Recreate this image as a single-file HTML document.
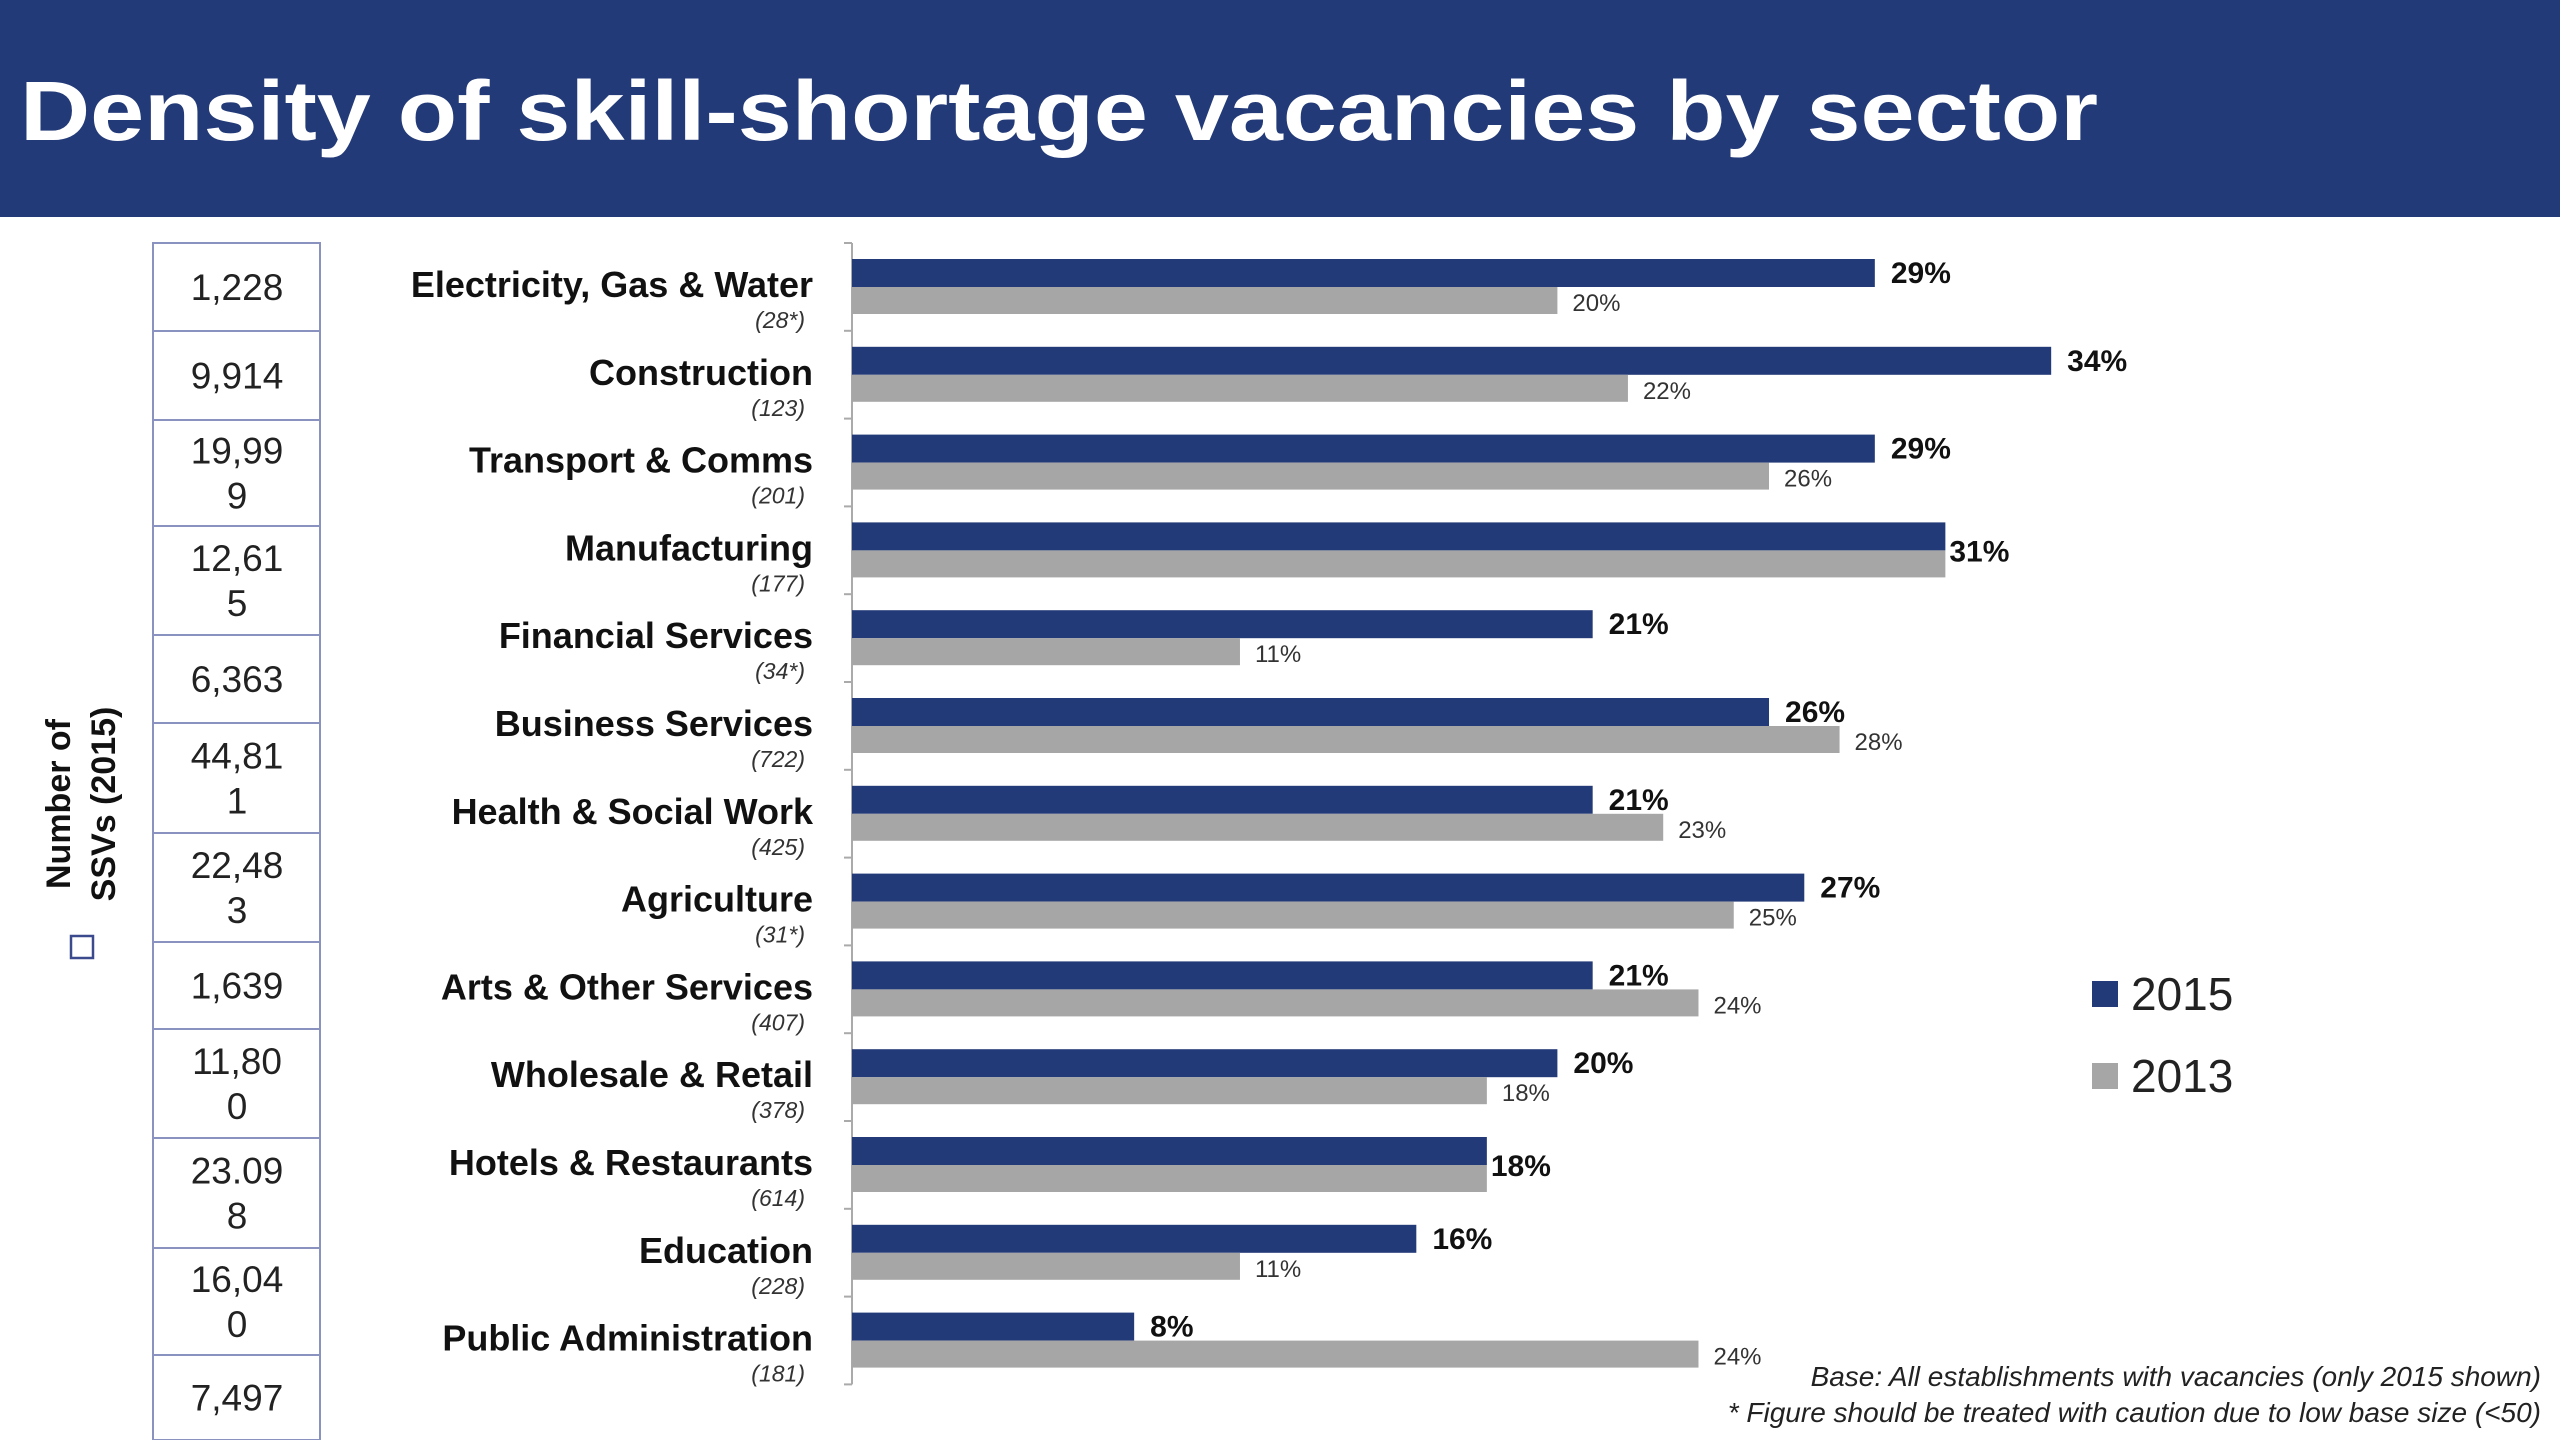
<!DOCTYPE html>
<html><head><meta charset="utf-8"><style>
html,body{margin:0;padding:0;background:#fff;}
svg{display:block;font-family:"Liberation Sans","DejaVu Sans",sans-serif;}
</style></head><body>
<svg id="chart" width="2560" height="1440" viewBox="0 0 2560 1440">
<rect x="0" y="0" width="2560" height="217" fill="#233a78"/>
<text x="20" y="140" font-size="84" font-weight="bold" fill="#fff" textLength="2078" lengthAdjust="spacingAndGlyphs">Density of skill-shortage vacancies by sector</text>
<g>
<text transform="translate(70,804) rotate(-90)" text-anchor="middle" font-size="34" font-weight="bold" fill="#111">Number of</text>
<text transform="translate(115,804) rotate(-90)" text-anchor="middle" font-size="34" font-weight="bold" fill="#111">SSVs (2015)</text>
</g>
<rect x="71" y="936" width="22" height="22" fill="none" stroke="#3a4a8c" stroke-width="2.5"/>
<g id="table"></g>
<g id="bars"></g>
<g>
<rect x="2092" y="981" width="26" height="26" fill="#233a78"/>
<text x="2131" y="1010" font-size="46" fill="#222">2015</text>
<rect x="2092" y="1063" width="26" height="26" fill="#a6a6a6"/>
<text x="2131" y="1092" font-size="46" fill="#222">2013</text>
</g>
<text x="2541" y="1386" text-anchor="end" font-size="28" font-style="italic" fill="#222">Base: All establishments with vacancies (only 2015 shown)</text>
<text x="2541" y="1422" text-anchor="end" font-size="28" font-style="italic" fill="#222">* Figure should be treated with caution due to low base size (&lt;50)</text>
</svg>
<script>
const categories = ["Electricity, Gas & Water","Construction","Transport & Comms","Manufacturing","Financial Services","Business Services","Health & Social Work","Agriculture","Arts & Other Services","Wholesale & Retail","Hotels & Restaurants","Education","Public Administration"];
const bases = ["(28*)","(123)","(201)","(177)","(34*)","(722)","(425)","(31*)","(407)","(378)","(614)","(228)","(181)"];
const values2015 = [29,34,29,31,21,26,21,27,21,20,18,16,8];
const values2013 = [20,22,26,31,11,28,23,25,24,18,18,11,24];
const ssvLines = [["1,228"],["9,914"],["19,99","9"],["12,61","5"],["6,363"],["44,81","1"],["22,48","3"],["1,639"],["11,80","0"],["23.09","8"],["16,04","0"],["7,497"]];
const ssvRowEdges = [243,331,420,526,635,723,833,942,1029,1138,1248,1355,1440];

const NS = "http://www.w3.org/2000/svg";
const X0 = 852, PX = 35.27, TOP = 243, BAND = 87.8;
const xs = v => X0 + v * PX;
const ys = i => TOP + i * BAND;
function mk(tag, attrs, parent, txt) {
  const e = document.createElementNS(NS, tag);
  for (const k in attrs) e.setAttribute(k, attrs[k]);
  if (txt !== undefined) e.textContent = txt;
  parent.appendChild(e);
  return e;
}
const bars = document.getElementById('bars');
const axis = mk('line', {x1: X0, y1: TOP, x2: X0, y2: ys(categories.length), stroke: '#aaa', 'stroke-width': 2}, bars);


for (let i = 0; i <= categories.length; i++) {
  const t = mk('line', {x1: X0 - 8, y1: ys(i), x2: X0, y2: ys(i), stroke: '#aaa', 'stroke-width': 2}, bars);
  
  
}
categories.forEach((c, i) => {
  const y = ys(i);
  const lab = mk('text', {x: 813, y: y + 54, 'text-anchor': 'end', 'font-size': 36, 'font-weight': 'bold', fill: '#111'}, bars, c);
  
  
  const b = mk('text', {x: 805, y: y + 85, 'text-anchor': 'end', 'font-size': 23, 'font-style': 'italic', fill: '#333'}, bars, bases[i]);
  
  
  const v1 = values2015[i], v0 = values2013[i];
  const r1 = mk('rect', {x: X0, y: y + 16, width: xs(v1) - X0, height: 28, fill: '#233a78'}, bars);
  
  
  const r0 = mk('rect', {x: X0, y: y + 44, width: xs(v0) - X0, height: 27, fill: '#a6a6a6'}, bars);
  
  
  if (v1 === v0) {
    const l = mk('text', {x: xs(v1) + 4, y: y + 55, 'font-size': 30, 'font-weight': 'bold', fill: '#111'}, bars, v1 + '%');
    
    
  } else {
    const l1 = mk('text', {x: xs(v1) + 16, y: y + 40, 'font-size': 30, 'font-weight': 'bold', fill: '#111'}, bars, v1 + '%');
    
    
    const l0 = mk('text', {x: xs(v0) + 15, y: y + 68, 'font-size': 24, fill: '#333'}, bars, v0 + '%');
    
    
  }
});
const table = document.getElementById('table');
ssvLines.forEach((lines, i) => {
  const y0 = ssvRowEdges[i], y1 = ssvRowEdges[i + 1];
  const r = mk('rect', {x: 153, y: y0, width: 167, height: y1 - y0, fill: '#fff', stroke: '#8a93c0', 'stroke-width': 2}, table);
  
  
  const mid = (y0 + y1) / 2;
  const lh = 45;
  lines.forEach((s, j) => {
    const ty = mid + 13 + (j - (lines.length - 1) / 2) * lh;
    const t = mk('text', {x: 237, y: ty, 'text-anchor': 'middle', 'font-size': 37, fill: '#222'}, table, s);
    
    
  });
});
</script>
</body></html>
